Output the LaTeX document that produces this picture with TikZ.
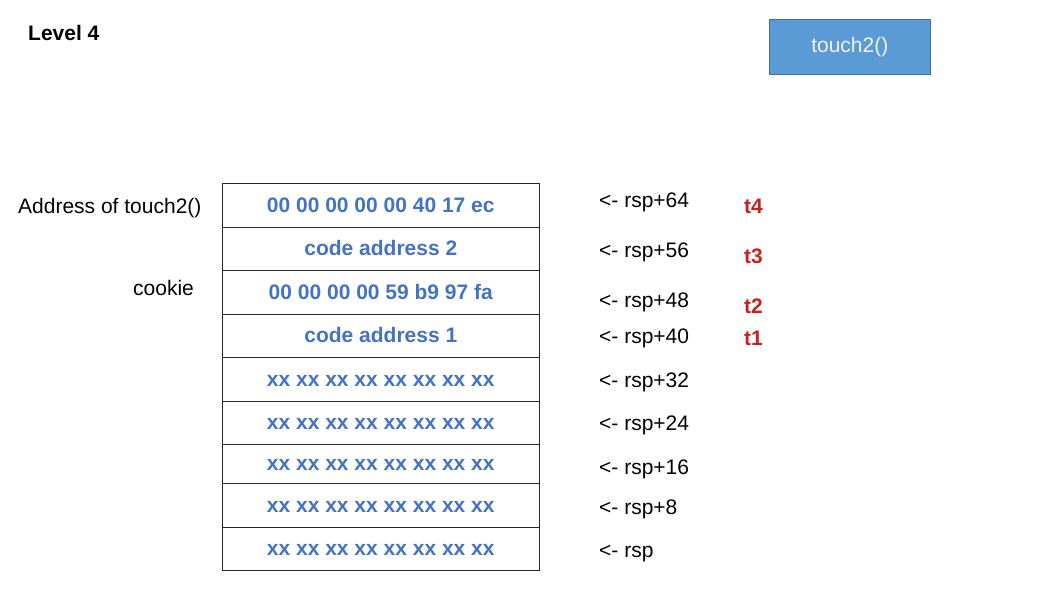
\documentclass[tikz,border=0pt]{standalone}
\usepackage{fontspec}
\setmainfont{Liberation Sans}
\definecolor{cellblue}{HTML}{4472C4}
\definecolor{tred}{HTML}{C9211E}
\definecolor{boxfill}{HTML}{5B9BD5}
\definecolor{boxline}{HTML}{41719C}
\begin{document}
\begin{tikzpicture}[x=1pt,y=-1pt,
  every node/.style={inner sep=0pt, font=\fontsize{21}{25}\selectfont},
  cell/.style={draw=black!85, line width=1pt, minimum width=317pt, text=cellblue, text height=14.5pt, text depth=0pt, font=\fontsize{21}{25}\selectfont\bfseries},
  lbl/.style={anchor=base west},
  tlbl/.style={anchor=base west, text=tred, font=\fontsize{21}{25}\selectfont\bfseries}]
\useasboundingbox (0,0) rectangle (1060,597);
\node[lbl, font=\fontsize{21}{25}\selectfont\bfseries] (title) at (28,40.7) {Level 4};
\node[draw=boxline, fill=boxfill, line width=1pt, minimum width=161pt, minimum height=55pt, text=white!95!black] (touch) at (849.8,46.8) {touch2()};
% stack cells
\node[cell, minimum height=44pt] (c1) at (380.8,205) {00 00 00 00 00 40 17 ec};
\node[cell, minimum height=43pt] (c2) at (380.8,248.5) {code address 2};
\node[cell, minimum height=44pt] (c3) at (380.8,292) {00 00 00 00 59 b9 97 fa};
\node[cell, minimum height=43pt] (c4) at (380.8,335.5) {code address 1};
\node[cell, minimum height=44pt] (c5) at (380.8,379) {xx xx xx xx xx xx xx xx};
\node[cell, minimum height=43pt] (c6) at (380.8,422.5) {xx xx xx xx xx xx xx xx};
\node[cell, minimum height=39pt] (c7) at (380.8,463.5) {xx xx xx xx xx xx xx xx};
\node[cell, minimum height=44pt] (c8) at (380.8,505) {xx xx xx xx xx xx xx xx};
\node[cell, minimum height=43pt] (c9) at (380.8,548.5) {xx xx xx xx xx xx xx xx};
% left labels
\node[lbl] (addr) at (18,213) {Address of touch2()};
\node[lbl] (cookie) at (133,295) {cookie};
% right labels
\node[lbl] (r64) at (599,207.7) {<- rsp+64};
\node[lbl] (r56) at (599,257) {<- rsp+56};
\node[lbl] (r48) at (599,307) {<- rsp+48};
\node[lbl] (r40) at (599,343) {<- rsp+40};
\node[lbl] (r32) at (599,387) {<- rsp+32};
\node[lbl] (r24) at (599,430) {<- rsp+24};
\node[lbl] (r16) at (599,474) {<- rsp+16};
\node[lbl] (r8) at (599,514) {<- rsp+8};
\node[lbl] (r0) at (599,557) {<- rsp};
% t labels
\node[tlbl] (t4) at (744,213.5) {t4};
\node[tlbl] (t3) at (744,263) {t3};
\node[tlbl] (t2) at (744,313) {t2};
\node[tlbl] (t1) at (744,345) {t1};
\end{tikzpicture}
\end{document}
